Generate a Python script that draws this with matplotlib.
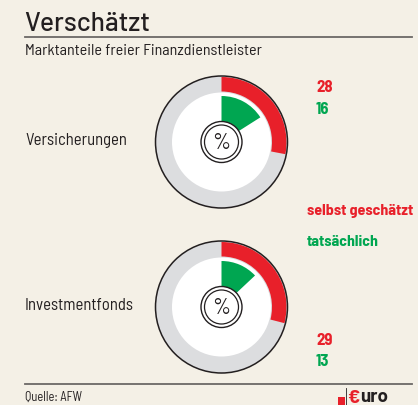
import matplotlib.pyplot as plt
from matplotlib.patches import Wedge, Circle, Rectangle

# data
kategorien = ["Versicherungen", "Investmentfonds"]
selbst_geschaetzt = [28, 29]
tatsaechlich = [16, 13]

BG = "#f4f0e6"
RED = "#e8202a"
GREEN = "#00a651"
GRAY = "#dcdddf"
DARK = "#231f20"

COND = ["Barlow Semi Condensed", "DejaVu Sans"]
HEAD = ["Barlow", "DejaVu Sans"]

fig = plt.figure(figsize=(4.18, 4.06), dpi=100, facecolor=BG)
ax = fig.add_axes([0, 0, 1, 1])
ax.set_xlim(0, 418)
ax.set_ylim(406, 0)
ax.set_aspect("equal")
ax.axis("off")

# header
ax.text(24, 31, "Verschätzt", fontsize=19, color=DARK, family=HEAD,
        fontweight=500, va="baseline")
ax.plot([25, 412], [37.5, 37.5], color="#6b6866", lw=1.3)
ax.text(25, 55, "Marktanteile freier Finanzdienstleister", fontsize=11.5,
        color=DARK, family=COND, va="baseline")

centers_y = [143, 308]
cx = 221.5
R = 66
for i, cy in enumerate(centers_y):
    # grey ring + white inside
    ax.add_patch(Circle((cx, cy), R, facecolor=GRAY, edgecolor="none"))
    ax.add_patch(Circle((cx, cy), 49.5, facecolor="white", edgecolor="none"))
    # y axis is flipped: 270 deg is the top, angles grow clockwise
    a = 360 * selbst_geschaetzt[i] / 100
    ax.add_patch(Wedge((cx, cy), 65, 270, 270 + a, width=14.5,
                       facecolor=RED, edgecolor="none"))
    b = 360 * tatsaechlich[i] / 100
    ax.add_patch(Wedge((cx, cy), 46, 270, 270 + b,
                       facecolor=GREEN, edgecolor="none"))
    ax.add_patch(Circle((cx, cy), R, facecolor="none", edgecolor=DARK, lw=1.1))
    # hub
    ax.add_patch(Circle((cx, cy), 20.5, facecolor="white", edgecolor=DARK, lw=1.0))
    ax.add_patch(Circle((cx, cy), 17, facecolor="white", edgecolor=DARK, lw=0.9))
    ax.text(cx, cy + 1, "%", fontsize=16, color=DARK, family=COND,
            ha="center", va="center")
    ax.text(25, cy - 2, kategorien[i], fontsize=12, color=DARK, family=COND,
            va="center")

# value labels
num_y = [(88, 110), (341, 362)]
for i, (yr, yg) in enumerate(num_y):
    ax.text(316, yr, str(selbst_geschaetzt[i]), fontsize=12, color=RED,
            family=COND, fontweight="bold", va="center")
    ax.text(316, yg, str(tatsaechlich[i]), fontsize=12, color=GREEN,
            family=COND, fontweight="bold", va="center")

# legend
ax.text(307, 211, "selbst geschätzt", fontsize=11.5, color=RED,
        family=COND, fontweight="bold", va="center")
ax.text(307, 242, "tatsächlich", fontsize=11.5, color=GREEN,
        family=COND, fontweight="bold", va="center")

# footer
ax.plot([25, 412], [384.5, 384.5], color="#6b6866", lw=1.3)
ax.text(25, 401, "Quelle: AFW", fontsize=9, color=DARK, family=COND,
        va="baseline")
ax.add_patch(Rectangle((338, 398), 7, 8, facecolor=RED, edgecolor="none"))
ax.plot([345.5, 345.5], [389, 406], color=DARK, lw=0.6)
ax.text(347, 403, "€", fontsize=14, color=RED, family=HEAD,
        fontweight="bold", va="baseline")
ax.text(360, 402.5, "uro", fontsize=13.5, color=DARK, family=HEAD,
        fontweight="bold", va="baseline")

fig.savefig("out.png", dpi=100, facecolor=BG)
